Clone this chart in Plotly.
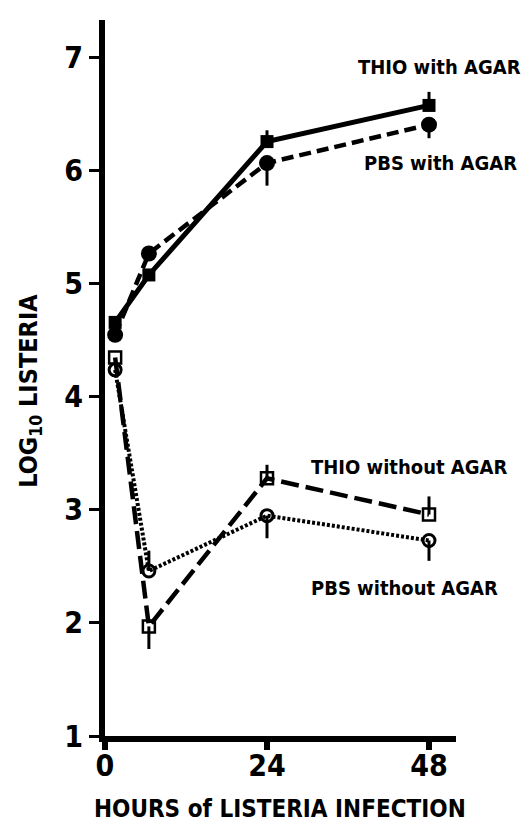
import plotly.graph_objects as go

# ---- data ----
hours = [1.5, 6.5, 24, 48]

thio_agar = [4.66, 5.08, 6.26, 6.58]
thio_agar_up = [0, 0, 0.10, 0.12]
thio_agar_dn = [0, 0, 0, 0]

pbs_agar = [4.55, 5.27, 6.07, 6.41]
pbs_agar_up = [0, 0, 0, 0]
pbs_agar_dn = [0, 0, 0.20, 0.12]

thio_noagar = [4.35, 1.97, 3.28, 2.96]
thio_noagar_up = [0, 0, 0.12, 0.16]
thio_noagar_dn = [0, 0.20, 0, 0]

pbs_noagar = [4.24, 2.46, 2.95, 2.73]
pbs_noagar_up = [0, 0.18, 0, 0]
pbs_noagar_dn = [0, 0, 0.20, 0.18]

x_ticks = [0, 24, 48]
y_ticks = [1, 2, 3, 4, 5, 6, 7]

labels = ["THIO with AGAR", "PBS with AGAR", "THIO without AGAR", "PBS without AGAR"]

FONT = "DejaVu Sans Condensed, Liberation Sans Narrow, Arial Narrow, sans-serif"
BLACK = "#000000"

fig = go.Figure()

def err(up, dn):
    return dict(type="data", symmetric=False, array=up, arrayminus=dn,
                color=BLACK, thickness=3, width=0)

fig.add_trace(go.Scatter(
    x=hours, y=thio_agar, mode="lines+markers", name=labels[0],
    line=dict(color=BLACK, width=5),
    marker=dict(symbol="square", size=13, color=BLACK),
    error_y=err(thio_agar_up, thio_agar_dn)))

fig.add_trace(go.Scatter(
    x=hours, y=pbs_agar, mode="lines+markers", name=labels[1],
    line=dict(color=BLACK, width=4.5, dash="12px,6px"),
    marker=dict(symbol="circle", size=16, color=BLACK),
    error_y=err(pbs_agar_up, pbs_agar_dn)))

fig.add_trace(go.Scatter(
    x=hours, y=thio_noagar, mode="lines+markers", name=labels[2],
    line=dict(color=BLACK, width=4.5, dash="18px,7px"),
    marker=dict(symbol="square-open", size=12, color=BLACK, line=dict(width=2.5, color=BLACK)),
    error_y=err(thio_noagar_up, thio_noagar_dn)))

fig.add_trace(go.Scatter(
    x=hours, y=pbs_noagar, mode="lines+markers", name=labels[3],
    line=dict(color=BLACK, width=4, dash="3px,2px"),
    marker=dict(symbol="circle-open", size=12, color=BLACK, line=dict(width=3, color=BLACK)),
    error_y=err(pbs_noagar_up, pbs_noagar_dn)))

fig.update_layout(
    width=529, height=823,
    margin=dict(l=97, r=81, t=12, b=95),
    paper_bgcolor="white", plot_bgcolor="white",
    showlegend=False,
    font=dict(family=FONT, color=BLACK),
    xaxis=dict(range=[0, 52.0], tickvals=x_ticks, ticktext=[str(v) for v in x_ticks],
               showgrid=False, zeroline=False, showline=True, linecolor=BLACK, linewidth=6,
               ticks="outside", ticklen=8, tickwidth=6, tickcolor=BLACK,
               ticklabelstandoff=-10,
               tickfont=dict(family=FONT, size=30, color=BLACK, weight="bold")),
    yaxis=dict(range=[1, 7.336], tickvals=y_ticks, ticktext=[str(v) for v in y_ticks],
               showgrid=False, zeroline=False, showline=True, linecolor=BLACK, linewidth=6,
               ticks="outside", ticklen=10, tickwidth=3, tickcolor=BLACK,
               tickfont=dict(family=FONT, size=30, color=BLACK, weight="bold")),
)

def ann(text, x, y, xanchor, size, angle=0):
    fig.add_annotation(text=text, xref="paper", yref="paper", x=x, y=y,
                       xanchor=xanchor, yanchor="middle", showarrow=False, textangle=angle,
                       font=dict(family=FONT, size=size, color=BLACK, weight="bold"))

ann(labels[0], 1.19, 0.935, "right", 20)
ann(labels[1], 1.18, 0.80, "right", 20)
ann(labels[2], 0.58, 0.376, "left", 20)
ann(labels[3], 0.58, 0.207, "left", 20)
ann("HOURS of LISTERIA INFECTION", 0.4986, -0.102, "center", 24)
ann("LOG<sub>10</sub> LISTERIA", -0.214, 0.482, "center", 25, angle=-90)

fig.write_html("out.html")
